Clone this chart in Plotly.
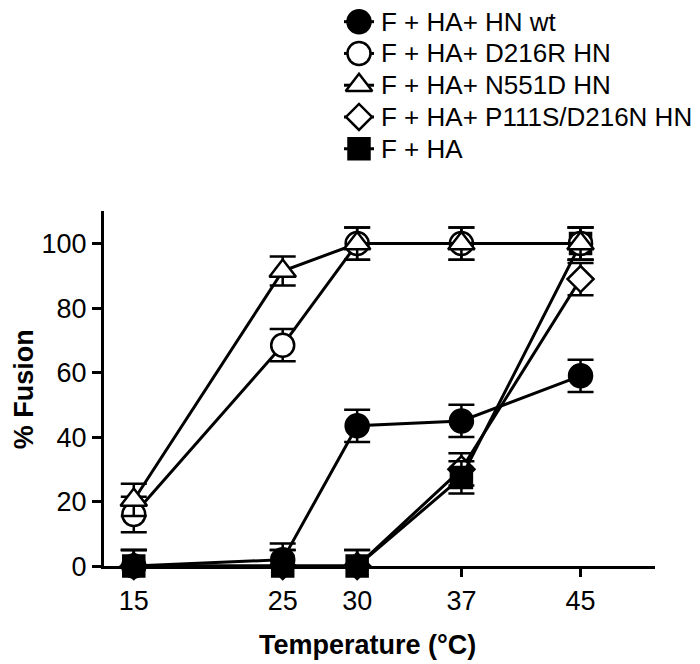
import plotly.graph_objects as go

# ---------------- data ----------------
temps = [15, 25, 30, 37, 45]
temp_labels = ["15", "25", "30", "37", "45"]
y_ticks = [0, 20, 40, 60, 80, 100]

names = ["F + HA+ HN wt", "F + HA+ D216R HN", "F + HA+ N551D HN",
         "F + HA+ P111S/D216N HN", "F + HA"]

hn_wt = [0, 2, 43.5, 45, 59]
hn_wt_err = [5, 5, 5, 5, 5]
d216r = [16, 68.5, 100, 100, 100]
d216r_err = [5.5, 5, 5, 5, 5]
n551d = [20.5, 91.5, 100, 100, 100]
n551d_err = [5, 4.5, 5, 5, 5]
p111s = [0, 0, 0, 30, 89]
p111s_err = [5, 5, 5, 5, 5]
f_ha = [0, 0, 0, 27.5, 100]
f_ha_err = [5, 5, 5, 5, 5]

values = [hn_wt, d216r, n551d, p111s, f_ha]
errors = [hn_wt_err, d216r_err, n551d_err, p111s_err, f_ha_err]

# ---------------- styles ----------------
symbols = ["circle", "circle", "triangle-up", "diamond", "square"]
fills = ["black", "white", "white", "white", "black"]
sizes = [23, 23, 23, 20, 21]
draw_order = [3, 0, 4, 1, 2]

W, H = 700, 664
PL, PR, PT, PB = 96, 647, 208, 571
FONT = "Liberation Sans, Arial, Helvetica, sans-serif"

fig = go.Figure()

for i in draw_order:
    fig.add_trace(go.Scatter(
        x=temps, y=values[i], mode="lines+markers", name=names[i],
        line=dict(color="black", width=3),
        marker=dict(symbol=symbols[i], size=sizes[i], color=fills[i],
                    line=dict(color="black", width=2.5)),
        error_y=dict(type="data", array=errors[i], symmetric=True,
                     color="black", thickness=2.5, width=13),
        cliponaxis=False, showlegend=False,
        xaxis="x", yaxis="y"))

# ---------------- custom legend (pixel-space helper axes) ----------------
leg_rows = [14, 46.5, 79, 111.5, 144]
leg_x0, leg_xc, leg_x1, leg_text_x = 336, 351, 366, 371
for i in range(len(names)):
    fig.add_trace(go.Scatter(
        x=[leg_x0, leg_x1], y=[leg_rows[i]] * 2, mode="lines",
        line=dict(color="black", width=3), showlegend=False,
        hoverinfo="skip", xaxis="x2", yaxis="y2", cliponaxis=False))
    fig.add_trace(go.Scatter(
        x=[leg_xc], y=[leg_rows[i]], mode="markers",
        marker=dict(symbol=symbols[i], size=sizes[i], color=fills[i],
                    line=dict(color="black", width=2.5)),
        showlegend=False, hoverinfo="skip", xaxis="x2", yaxis="y2",
        cliponaxis=False))
    fig.add_annotation(
        x=leg_text_x / W, y=1 - leg_rows[i] / H, xref="paper", yref="paper",
        text=names[i], showarrow=False, xanchor="left", yanchor="middle",
        font=dict(family=FONT, size=26, color="black"))

# axis titles
fig.add_annotation(x=360 / W, y=1 - 652 / H, xref="paper", yref="paper",
                   text="<b>Temperature (°C)</b>", showarrow=False,
                   xanchor="center", yanchor="middle",
                   font=dict(family=FONT, size=27, color="black"))
fig.add_annotation(x=16 / W, y=1 - 390 / H, xref="paper", yref="paper",
                   text="<b>% Fusion</b>", showarrow=False, textangle=-90,
                   xanchor="center", yanchor="middle",
                   font=dict(family=FONT, size=27, color="black"))

fig.update_layout(
    width=W, height=H, margin=dict(l=0, r=0, t=0, b=0),
    paper_bgcolor="white", plot_bgcolor="rgba(0,0,0,0)",
    font=dict(family=FONT, color="black"),
    showlegend=False,
    xaxis=dict(domain=[PL / W, PR / W], range=[13, 50], anchor="y",
               tickvals=temps, ticktext=temp_labels, ticks="outside",
               ticklen=8, tickwidth=3, tickcolor="black",
               showline=True, linewidth=3, linecolor="black",
               showgrid=False, zeroline=False,
               tickfont=dict(family=FONT, size=27, color="black")),
    yaxis=dict(domain=[1 - PB / H, 1 - PT / H], range=[0, 110], anchor="x",
               tickvals=y_ticks, ticks="outside",
               ticklen=9, tickwidth=3, tickcolor="black",
               showline=True, linewidth=3, linecolor="black",
               showgrid=False, zeroline=False,
               tickfont=dict(family=FONT, size=27, color="black")),
    xaxis2=dict(domain=[0, 1], range=[0, W], anchor="y2", visible=False),
    yaxis2=dict(domain=[0, 1], range=[H, 0], anchor="x2", visible=False),
)

fig.write_html("out.html")
